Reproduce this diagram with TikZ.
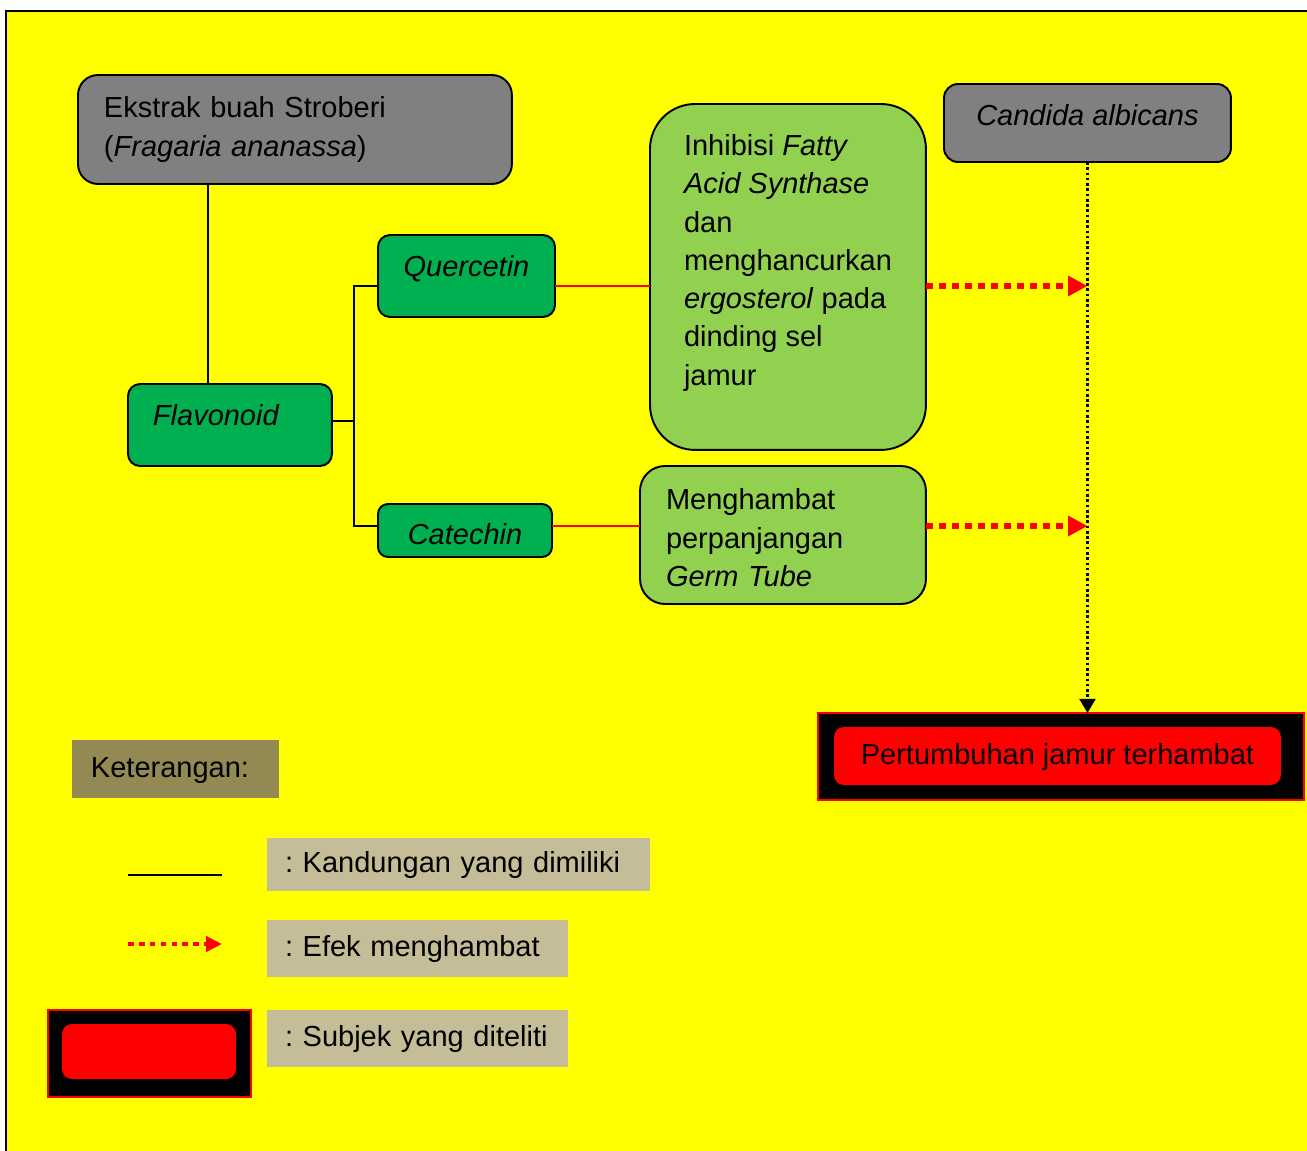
\documentclass[tikz,border=0pt]{standalone}
\usepackage{fontspec}
\setmainfont{Liberation Sans}
\usepackage{tikz}
\usepackage{xcolor}
\usetikzlibrary{arrows.meta, positioning, calc}

\definecolor{bgyellow}{HTML}{FFFF00}
\definecolor{boxgray}{HTML}{808080}
\definecolor{darkgreen}{HTML}{00B050}
\definecolor{lightgreen}{HTML}{92D050}
\definecolor{ketcolor}{HTML}{938953}
\definecolor{tancolor}{HTML}{C4BD97}

\begin{document}
\begin{tikzpicture}[x=0.02cm, y=-0.02cm,
  every node/.style={font=\fontsize{16.5}{21.8}\selectfont\frenchspacing, outer sep=0pt},
  kotak/.style={draw=black, line width=1.1pt, anchor=north west},
  abu/.style={kotak, fill=boxgray},
  hijau/.style={kotak, fill=darkgreen},
  hijaumuda/.style={kotak, fill=lightgreen},
  ket/.style={fill=tancolor, anchor=north west, inner xsep=0.36cm, inner ysep=0pt, align=left, text height=1.15em, text depth=0.2em},
  kand/.style={black, line width=1.1pt},
  merah/.style={red, line width=1.1pt},
  efek/.style={red, line width=3.4pt, dash pattern=on 3.8pt off 3.6pt, -{Triangle[length=11pt,width=11pt]}},
  amati/.style={black, line width=1.5pt, dash pattern=on 1.5pt off 1.5pt, -{Triangle[length=8pt,width=9pt]}}
]
\useasboundingbox (0,0) rectangle (1307,1150);
% background
\fill[white] (0,0) rectangle (1307,1150);
\draw[fill=bgyellow, line width=1.2pt] (6,11) rectangle (1312,1156);

% boxes
\node[abu, rounded corners=0.4cm, minimum width=8.68cm, minimum height=2.18cm, text width=7.64cm, inner xsep=0.52cm, inner ysep=0pt, align=left] (ekstrak) at (78,75) {Ekstrak buah Stroberi\\(\textit{Fragaria ananassa})};
\node[hijau, rounded corners=0.24cm, minimum width=4.08cm, minimum height=1.64cm, text width=3.08cm, inner xsep=0.5cm, inner ysep=0pt, align=left, text height=0.5em, text depth=0.5em] (flav) at (128,384) {\textit{Flavonoid}};
\node[hijau, rounded corners=0.24cm, minimum width=3.54cm, minimum height=1.64cm, inner sep=0pt, text height=0.5em, text depth=0.5em] (quer) at (378,235) {\textit{Quercetin}};
\node[hijau, rounded corners=0.2cm, minimum width=3.48cm, minimum height=1.06cm, inner sep=0pt, text height=1.72em, text depth=0.1em] (cate) at (378,504) {\textit{Catechin}};
\node[hijaumuda, rounded corners=0.9cm, minimum width=5.52cm, minimum height=6.92cm, inner sep=0pt, align=left, text depth=1.95em] (inhib) at (650,104) {Inhibisi \textit{Fatty}\\\textit{Acid Synthase}\\dan\\menghancurkan\\\textit{ergosterol} pada\\dinding sel\\jamur};
\node[hijaumuda, rounded corners=0.5cm, minimum width=5.72cm, minimum height=2.76cm, text width=4.68cm, inner xsep=0.52cm, inner ysep=0pt, align=left, text height=1.5em] (meng) at (640,466) {Menghambat\\perpanjangan\\\textit{Germ Tube}};
\node[abu, rounded corners=0.28cm, minimum width=5.74cm, minimum height=1.56cm, inner sep=0pt, text height=0.75em, text depth=0.5em] (candida) at (944,84) {\textit{Candida albicans}};
\node[fill=black, draw=red, line width=0.8pt, anchor=north west, minimum width=9.72cm, minimum height=1.74cm] (hasil) at (818,713) {};
\node[fill=red, rounded corners=0.2cm, anchor=north west, minimum width=8.94cm, minimum height=1.16cm, inner sep=0pt, text height=1.15em, text depth=0.21em] (hasilisi) at (834,727) {Pertumbuhan jamur terhambat};

% connectors
\coordinate (stem) at (208,0);
\coordinate (split) at (354,421);
\draw[kand] (ekstrak.south -| stem) -- (flav.north -| stem);
\draw[kand] (flav.east |- split) -- (split);
\draw[kand] ([yshift=-0.2cm]quer.west) -| (split) |- ([yshift=0.09cm]cate.west);
\draw[merah] ([yshift=-0.2cm]quer.east) coordinate (q1) -- (q1 -| inhib.west);
\draw[merah] ([yshift=0.09cm]cate.east) coordinate (c1) -- (c1 -| meng.west);
\draw[efek] (q1 -| inhib.east) -- (q1 -| candida.south);
\draw[efek] (c1 -| meng.east) -- (c1 -| candida.south);
\draw[amati] (candida.south) -- (candida.south |- hasil.north);

% legend
\node[fill=ketcolor, anchor=north west, minimum width=4.14cm, minimum height=1.16cm, text width=3.38cm, inner xsep=0.38cm, inner ysep=0pt, align=left, text height=1.12em, text depth=0.2em] (keterangan) at (72,740) {Keterangan:};
\node[ket, minimum height=1.06cm, text width=6.94cm] (lkand) at (267,838) {: Kandungan yang dimiliki};
\node[ket, minimum height=1.14cm, text width=5.3cm] (lefek) at (267,920) {: Efek menghambat};
\node[ket, minimum height=1.14cm, text width=5.3cm] (lsubjek) at (267,1010) {: Subjek yang diteliti};
\coordinate (ka) at (128,875);
\coordinate (kb) at (222,875);
\draw[kand] (ka) -- (kb);
\coordinate (ea) at (128,944);
\coordinate (eb) at (222,944);
\draw[efek, line width=2.8pt, dash pattern=on 3.2pt off 3pt, -{Triangle[length=9pt,width=8.5pt]}] (ea) -- (eb);
\node[fill=black, draw=red, line width=0.8pt, anchor=north west, minimum width=4.06cm, minimum height=1.74cm] (subjek) at (48,1010) {};
\node[fill=red, rounded corners=0.2cm, anchor=north west, minimum width=3.48cm, minimum height=1.1cm, inner sep=0pt] (subjekisi) at (62,1024) {};
\end{tikzpicture}
\end{document}
